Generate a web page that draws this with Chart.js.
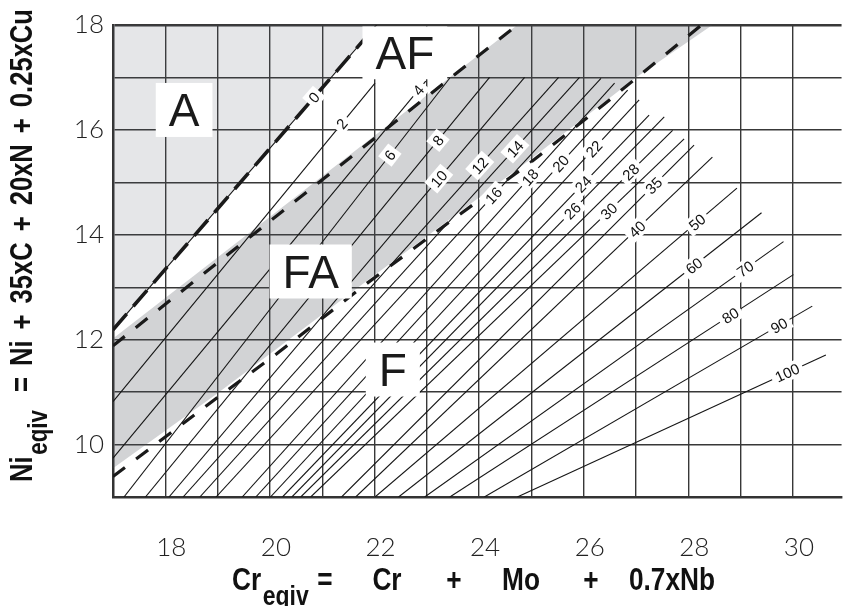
<!DOCTYPE html>
<html><head><meta charset="utf-8">
<script src="https://cdn.jsdelivr.net/npm/chart.js@4.4.0/dist/chart.umd.min.js"></script>
<style>html,body{margin:0;padding:0;background:#fff;}</style>
</head><body>
<canvas id="c" width="843" height="606"></canvas>
<script>
// ---------------- DATA ----------------
const xGridValues = [17,18,19,20,21,22,23,24,25,26,27,28,29,30];
const xTickLabels = [18,20,22,24,26,28,30];
const yGridValues = [9,10,11,12,13,14,15,16,17,18];
const yTickLabels = [10,12,14,16,18];

// iso-ferrite-number lines (FN), lower and upper end of each line
const fnValues = [0,2,4,6,8,10,12,14,16,18,20,22,24,26,28,30,35,40,50,60,70,80,90,100];
const fnLowX  = [17.00,17.00,17.00,17.21,17.62,18.07,18.34,18.66,18.97,19.47,19.73,20.01,20.24,20.42,20.59,20.78,21.37,21.64,22.01,22.46,22.96,23.44,24.10,24.73];
const fnLowY  = [12.19,10.82, 9.74, 9.00, 9.00, 9.00, 9.00, 9.00, 9.00, 9.00, 9.00, 9.00, 9.00, 9.00, 9.00, 9.00, 9.00, 9.00, 9.00, 9.00, 9.00, 9.00, 9.00, 9.00];
const fnHighX = [22.04,22.01,22.98,23.44,24.20,24.87,25.52,25.92,26.33,26.59,26.84,27.06,27.25,27.54,27.70,27.92,28.11,28.46,28.93,29.40,29.82,30.01,30.37,30.63];
const fnHighY = [18.00,16.89,16.93,16.99,17.00,17.00,17.00,17.00,16.98,16.89,16.76,16.57,16.28,16.25,15.99,15.83,15.71,15.48,14.89,14.42,13.87,13.24,12.64,11.71];
const fnLabelY = [16.62,16.12,16.76,15.52,15.80,15.07,15.32,15.64,14.75,15.10,15.36,15.64,14.97,14.46,15.20,14.45,14.94,14.11,14.24,13.41,13.35,12.46,12.27,11.37];

// phase boundaries (dashed)
const bndA_AF_X  = [17.00, 22.04];
const bndA_AF_Y  = [12.19, 18.00];
const bndAF_FA_X = [17.00, 24.73];
const bndAF_FA_Y = [11.885, 18.00];
const bndFA_F_X  = [17.00, 19.00, 20.13, 21.85, 23.44, 24.96, 26.33, 27.86, 28.25];
const bndFA_F_Y  = [ 9.39, 10.90, 11.73, 13.07, 14.25, 15.36, 16.44, 17.68, 18.00];

// shaded regions
const regionA_X  = [17.00, 22.04, 17.00];
const regionA_Y  = [12.19, 18.00, 18.00];
const regionFA_X = [17.00, 24.73, 28.46, 27.00, 24.96, 21.85, 19.00, 17.00];
const regionFA_Y = [12.02, 18.00, 18.00, 17.00, 15.42, 13.12, 10.98, 9.55];

// region names
const regionNames = ['A', 'AF', 'FA', 'F'];
const regionNameX = [18.36, 22.58, 20.78, 22.35];
const regionNameY = [16.38, 17.48, 13.30, 11.43];

// axis title texts
const xTitleMain = 'Cr', xTitleSub = 'eqiv';
const xTitleRest = ['=', 'Cr', '+', 'Mo', '+', '0.7xNb'];
const yTitleMain = 'Ni', yTitleSub = 'eqiv';
const yTitleRest = ['=', 'Ni', '+', '35xC', '+', '20xN', '+', '0.25xCu'];

// ---------------- CHART ----------------
const pts = (xs, ys) => xs.map((x, i) => ({x: x, y: ys[i]}));
const datasets = [];
datasets.push({label: 'A', data: pts(regionA_X, regionA_Y), fill: 'shape',
  backgroundColor: 'rgba(82,88,102,0.15)', borderColor: 'rgba(0,0,0,0)', borderWidth: 0, pointRadius: 0, order: 30});
datasets.push({label: 'FA', data: pts(regionFA_X, regionFA_Y), fill: 'shape',
  backgroundColor: 'rgba(75,79,87,0.25)', borderColor: 'rgba(0,0,0,0)', borderWidth: 0, pointRadius: 0, order: 29});
fnValues.forEach((v, i) => {
  datasets.push({label: 'FN ' + v, data: [{x: fnLowX[i], y: fnLowY[i]}, {x: fnHighX[i], y: fnHighY[i]}],
    borderColor: '#151515', borderWidth: 1.1, pointRadius: 0, fill: false, order: 10});
});
datasets.push({label: 'A/AF', data: pts(bndA_AF_X, bndA_AF_Y), borderColor: '#1a1a1a', borderWidth: 3.6,
  borderDash: [21, 10], pointRadius: 0, fill: false, order: 1});
datasets.push({label: 'AF/FA', data: pts(bndAF_FA_X, bndAF_FA_Y), borderColor: '#1a1a1a', borderWidth: 3.2,
  borderDash: [15, 14], pointRadius: 0, fill: false, order: 1});
datasets.push({label: 'FA/F', data: pts(bndFA_F_X, bndFA_F_Y), borderColor: '#1a1a1a', borderWidth: 3.2,
  borderDash: [15, 14], pointRadius: 0, fill: false, order: 1});

const TF = '"Liberation Sans", Arial, sans-serif';
const overlay = {
  id: 'overlay',
  afterDraw(chart) {
    const ctx = chart.ctx, xs = chart.scales.x, ys = chart.scales.y, a = chart.chartArea;
    ctx.save();
    ctx.beginPath(); ctx.rect(a.left, a.top, a.right - a.left, a.bottom - a.top); ctx.clip();
    // FN labels
    ctx.font = '15px ' + TF;
    ctx.textAlign = 'center'; ctx.textBaseline = 'alphabetic';
    fnValues.forEach((v, i) => {
      const t = (fnLabelY[i] - fnLowY[i]) / (fnHighY[i] - fnLowY[i]);
      const xd = fnLowX[i] + t * (fnHighX[i] - fnLowX[i]);
      const px = xs.getPixelForValue(xd), py = ys.getPixelForValue(fnLabelY[i]);
      const ang = Math.atan2(ys.getPixelForValue(fnHighY[i]) - ys.getPixelForValue(fnLowY[i]),
                             xs.getPixelForValue(fnHighX[i]) - xs.getPixelForValue(fnLowX[i]));
      const txt = String(v), w = ctx.measureText(txt).width;
      ctx.save(); ctx.translate(px, py); ctx.rotate(ang);
      ctx.fillStyle = '#fff'; ctx.fillRect(-w / 2 - 4, -8.5, w + 8, 17);
      ctx.fillStyle = '#111'; ctx.fillText(txt, 0, 5.4);
      ctx.restore();
    });
    // region names
    ctx.font = '46px ' + TF;
    regionNames.forEach((name, i) => {
      const px = xs.getPixelForValue(regionNameX[i]), py = ys.getPixelForValue(regionNameY[i]);
      const w = ctx.measureText(name).width;
      let top = py - 27, h = 54;
      if (top < a.top + 1.5) { h -= (a.top + 1.5 - top); top = a.top + 1.5; }
      ctx.fillStyle = '#fff'; ctx.fillRect(px - w / 2 - 13, top, w + 26, h);
      ctx.fillStyle = '#1a1a1a'; ctx.fillText(name, px, py + 16.5);
    });
    ctx.restore();

    // axis titles
    ctx.save();
    ctx.fillStyle = '#111'; ctx.textBaseline = 'alphabetic';
    const sx = 0.82;
    // x title
    ctx.save(); ctx.translate(232, 590); ctx.scale(sx, 1); ctx.textAlign = 'left';
    ctx.font = 'bold 32px ' + TF;
    ctx.fillText(xTitleMain, 0, 0);
    const wCr = ctx.measureText(xTitleMain).width;
    ctx.font = 'bold 28px ' + TF;
    ctx.fillText(xTitleSub, wCr + 2, 15);
    ctx.restore();
    const xCenters = [325, 387, 454, 521, 591, 672];
    ctx.save(); ctx.textAlign = 'center'; ctx.font = 'bold 32px ' + TF;
    xTitleRest.forEach((t, i) => {
      ctx.save(); ctx.translate(xCenters[i], 590); ctx.scale(sx, 1); ctx.fillText(t, 0, 0); ctx.restore();
    });
    ctx.restore();
    // y title
    ctx.save(); ctx.translate(32, 482); ctx.rotate(-Math.PI / 2); ctx.scale(0.8, 1); ctx.textAlign = 'left';
    ctx.font = 'bold 32px ' + TF;
    ctx.fillText(yTitleMain, 0, 0);
    const wNi = ctx.measureText(yTitleMain).width;
    ctx.font = 'bold 28px ' + TF;
    ctx.fillText(yTitleSub, wNi + 2, 15);
    ctx.font = 'bold 32px ' + TF;
    const startL = 90 / 0.8, endL = 473 / 0.8;
    const widths = yTitleRest.map(t => ctx.measureText(t).width);
    const gap = (endL - startL - widths.reduce((s, w) => s + w, 0)) / (yTitleRest.length - 1);
    let xx = startL;
    yTitleRest.forEach((t, i) => { ctx.fillText(t, xx, 0); xx += widths[i] + gap; });
    ctx.restore();
    ctx.restore();
  }
};

const tickFont = {family: 'Lato, "DejaVu Sans", sans-serif', size: 26, weight: '300'};
new Chart(document.getElementById('c'), {
  type: 'line',
  data: {datasets: datasets},
  options: {
    responsive: false, animation: false, events: [],
    layout: {padding: {top: 25, left: 0, right: 0, bottom: 0}},
    plugins: {legend: {display: false}, tooltip: {enabled: false}, title: {display: false}},
    scales: {
      x: {
        type: 'linear', min: 17, max: 30.93,
        afterBuildTicks: s => { s.ticks = xGridValues.map(v => ({value: v})); },
        afterFit: s => { s.height = 109; },
        grid: {color: '#383838', lineWidth: 1.4, drawTicks: false},
        border: {display: true, color: '#333', width: 2.5},
        ticks: {autoSkip: false, maxRotation: 0, padding: 35, labelOffset: 6, color: '#222', font: tickFont,
          callback: v => xTickLabels.includes(v) ? String(v) : ''}
      },
      y: {
        type: 'linear', min: 9, max: 18,
        afterBuildTicks: s => { s.ticks = yGridValues.map(v => ({value: v})); },
        afterFit: s => { s.width = 113; },
        grid: {color: '#383838', lineWidth: c => (c.tick && c.tick.value === 18) ? 2.4 : 1.4, drawTicks: false},
        border: {display: true, color: '#333', width: 2.5},
        ticks: {autoSkip: false, padding: 9, color: '#222', font: tickFont,
          callback: v => yTickLabels.includes(v) ? String(v) : ''}
      }
    }
  },
  plugins: [overlay]
});
</script>
</body></html>
